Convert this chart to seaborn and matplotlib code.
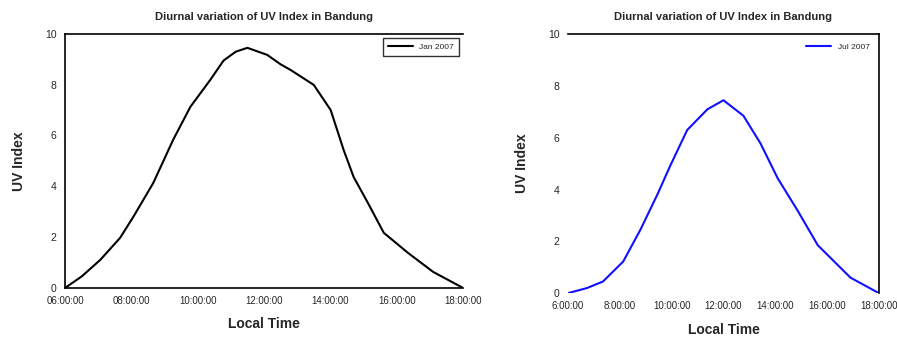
import matplotlib
matplotlib.use("Agg")
import matplotlib.pyplot as plt
import seaborn as sns
import pandas as pd

# hours of local time and UV index
jan_hours = [6.0, 6.5, 7.06, 7.66, 8.06, 8.66, 9.26, 9.78, 10.38, 10.78, 11.15, 11.5,
             12.1, 12.5, 12.8, 13.5, 14.01, 14.4, 14.7, 15.13, 15.61, 16.34, 17.1, 18.0]
jan_uv = [0.0, 0.45, 1.1, 1.97, 2.8, 4.13, 5.83, 7.13, 8.19, 8.95, 9.3, 9.45,
          9.17, 8.8, 8.58, 7.99, 7.0, 5.43, 4.37, 3.35, 2.17, 1.38, 0.63, 0.0]

jul_hours = [6.0, 6.74, 7.35, 8.13, 8.79, 9.45, 9.95, 10.6, 11.38, 12.0, 12.77,
             13.43, 14.09, 14.86, 15.64, 16.9, 18.0]
jul_uv = [0.0, 0.2, 0.45, 1.22, 2.44, 3.81, 4.93, 6.3, 7.1, 7.45, 6.85,
          5.78, 4.44, 3.19, 1.85, 0.6, 0.0]

tick_hours = [6, 8, 10, 12, 14, 16, 18]
left_labels = ["06:00:00", "08:00:00", "10:00:00", "12:00:00", "14:00:00", "16:00:00", "18:00:00"]
right_labels = ["6:00:00", "8:00:00", "10:00:00", "12:00:00", "14:00:00", "16:00:00", "18:00:00"]
y_ticks = [0, 2, 4, 6, 8, 10]

title = "Diurnal variation of UV Index in Bandung"

sns.set_style("white")
plt.rcParams['font.family'] = ['Liberation Sans', 'DejaVu Sans']

fig = plt.figure(figsize=(8.97, 3.49), dpi=100)
ax1 = fig.add_axes([0.0725, 0.175, 0.4437, 0.728])
ax2 = fig.add_axes([0.6332, 0.160, 0.3467, 0.742])

jan = pd.DataFrame({"hour": jan_hours, "uv": jan_uv, "series": "Jan 2007"})
jul = pd.DataFrame({"hour": jul_hours, "uv": jul_uv, "series": "Jul 2007"})

sns.lineplot(data=jan, x="hour", y="uv", hue="series", palette=["black"],
             linewidth=1.5, ax=ax1)
sns.lineplot(data=jul, x="hour", y="uv", hue="series", palette=["#1010ff"],
             linewidth=1.5, ax=ax2)

for ax, labels in [(ax1, left_labels), (ax2, right_labels)]:
    ax.set_xlim(6, 18)
    ax.set_ylim(0, 10)
    ax.set_xticks(tick_hours)
    ax.set_xticklabels(labels, fontsize=7)
    ax.set_yticks(y_ticks)
    ax.set_yticklabels([str(v) for v in y_ticks], fontsize=7.5)
    ax.tick_params(axis="both", direction="out", length=3, width=1, color="black", pad=3)
    ax.set_title(title, fontsize=8, fontweight="bold", pad=10)
    ax.set_xlabel("Local Time", fontsize=10, fontweight="bold", labelpad=8)
    ax.set_ylabel("UV Index", fontsize=10, fontweight="bold", labelpad=14)
    ax.legend(loc="upper right", fontsize=6, frameon=True, fancybox=False,
              edgecolor="black", handlelength=3, borderpad=0.6)

for side in ["left", "bottom", "top"]:
    ax1.spines[side].set_color("black")
    ax1.spines[side].set_linewidth(1.2)
ax1.spines["right"].set_visible(False)

ax2.spines["left"].set_visible(False)
ax2.spines["bottom"].set_visible(False)
for side in ["right", "top"]:
    ax2.spines[side].set_color("black")
    ax2.spines[side].set_linewidth(1.2)
ax2.get_legend().get_frame().set_edgecolor("white")

fig.savefig("out.png", dpi=100)
